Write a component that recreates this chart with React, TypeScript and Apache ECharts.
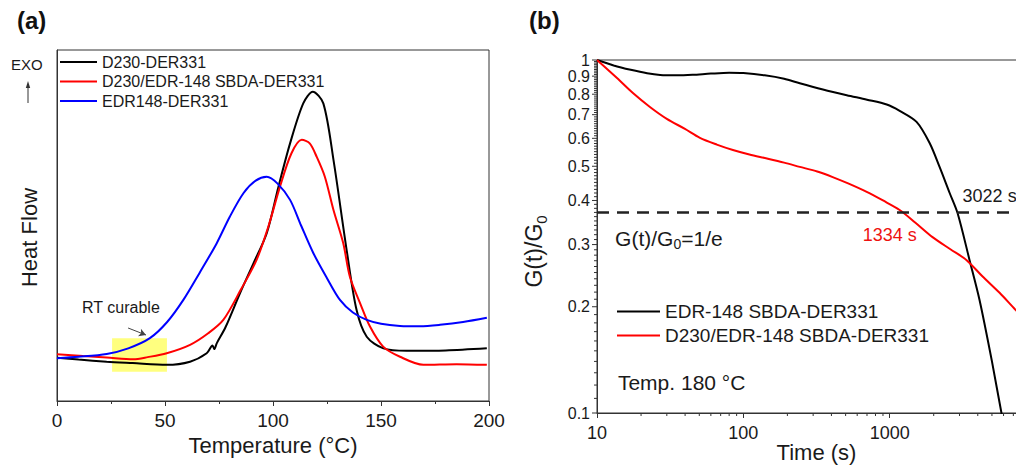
import React, { useEffect, useRef } from 'react';
import * as echarts from 'echarts';

const FONT = "'Liberation Sans', Arial, Helvetica, sans-serif";
const INK = '#1a1a1a';
const AXIS = '#333333';

// ---------- Panel (a): DSC heat flow ----------
const tempD230 = [0, 10, 23, 35, 50.8, 61.6, 69.3, 72, 72.8, 74, 78, 84.7, 91, 97.1, 102.5, 107.9, 114, 118.4, 123.3, 128, 134.1, 138.7, 143.4, 151.1, 161.9, 180, 199];
const heatD230 = [12.3, 11.8, 11.2, 10.8, 10.3, 11.2, 13.6, 15.8, 14.8, 16.5, 21, 30.7, 39.3, 47.8, 61, 73.4, 84.8, 88.1, 84.8, 68.7, 43, 25.9, 18.3, 15, 14.3, 14.4, 15];

const tempMix = [0, 12, 23, 35.3, 42, 50.8, 61.6, 70, 77, 85, 92.4, 98, 103.2, 108.5, 113.3, 117, 120.2, 124, 128, 132.5, 135.6, 140.3, 144.9, 151, 158.8, 169.6, 185, 199];
const heatMix = [13.3, 12.8, 12.4, 11.9, 12.5, 13.6, 16, 19.3, 23.1, 31.6, 40.2, 50, 61, 70.5, 74.4, 73.4, 69.6, 63.9, 54.4, 45, 35.4, 27.9, 21.2, 15.5, 12.6, 10.3, 10.5, 10.3];

const tempEdr = [0, 10, 23, 33, 43, 51, 58.5, 66, 73.9, 80, 86.3, 92, 97.1, 102, 107.9, 113, 118.7, 125, 131, 137, 143.4, 150, 158.8, 168, 177.3, 188, 199];
const heatEdr = [12.2, 12.6, 13.4, 15, 17.9, 22.5, 28.8, 36.5, 44.9, 52.5, 59.2, 62.8, 63.9, 62, 57.3, 50, 42.1, 35, 28.8, 25.2, 23.1, 22, 21.4, 21.3, 21.7, 22.5, 23.7];

const leftNames = ['D230-DER331', 'D230/EDR-148 SBDA-DER331', 'EDR148-DER331'];
const rtBox = [[25.5, 17.9], [50.9, 8.3]];
const rtArrow = [[32.9, 20.8], [41.2, 18.8]];
const rtLabelAt = [29.6, 26.5];

// ---------- Panel (b): stress relaxation ----------
const timeEdr = [10, 13, 17, 22, 27, 35, 45, 60, 80, 100, 140, 190, 243, 350, 509, 700, 955, 1170, 1527, 1875, 2193, 2570, 2913, 3516, 4113, 5000, 5808, 6200];
const gEdr = [1.0, 0.965, 0.938, 0.917, 0.907, 0.905, 0.908, 0.915, 0.92, 0.918, 0.905, 0.885, 0.859, 0.825, 0.795, 0.772, 0.748, 0.718, 0.668, 0.582, 0.498, 0.42, 0.368, 0.271, 0.209, 0.14, 0.1, 0.088];

const timeMix = [10, 13.7, 17.6, 23, 30, 39.9, 50.5, 65.9, 84.9, 110, 145, 190, 243, 320, 408, 520, 697, 900, 1170, 1500, 1963, 2600, 3357, 4300, 5640, 7244, 10000];
const gMix = [1.0, 0.889, 0.806, 0.736, 0.681, 0.638, 0.602, 0.576, 0.556, 0.54, 0.526, 0.512, 0.498, 0.483, 0.466, 0.447, 0.423, 0.4, 0.376, 0.346, 0.315, 0.291, 0.271, 0.244, 0.219, 0.196, 0.171];

const rightNames = ['EDR-148 SBDA-DER331', 'D230/EDR-148 SBDA-DER331'];
const gTickValues = [1, 0.9, 0.8, 0.7, 0.6, 0.5, 0.4, 0.3, 0.2, 0.1];
const gTickLabels = ['1', '0.9', '0.8', '0.7', '0.6', '0.5', '0.4', '0.3', '0.2', '0.1'];
const invE = 0.3679;
const noteTexts = ['3022 s', '1334 s', '{a|G(t)/G}{s|0}{a|=1/e}', 'Temp. 180 °C'];
const noteTime = [3150, 1000, 13.3, 13.9];
const noteG = [0.412, 0.319, 0.313, 0.122];

const zip = (a: number[], b: number[]) => a.map((x, i) => [x, b[i]]);

export default function App() {
  const ref = useRef<HTMLDivElement>(null);

  useEffect(() => {
    if (!ref.current) return;
    const chart = echarts.init(ref.current, null, { renderer: 'svg' });

    // minor tick marks for the log axes (axis ticks, not data)
    const tickData: number[][] = [];
    for (let k = 10; k <= 100; k++) tickData.push([10, k / 100, k % 10 === 0 ? 0 : 1]);
    [10, 100, 1000].forEach((d) => {
      for (let m = 2; m <= 9; m++) tickData.push([m * d, 0.1, 2]);
    });

    const noteStyles = [
      { fill: INK, fontSize: 18, align: 'left' },
      { fill: '#ee1111', fontSize: 18, align: 'center' },
      { fill: INK, fontSize: 21, align: 'left' },
      { fill: INK, fontSize: 21, align: 'left' },
    ];

    const option: any = {
      animation: false,
      backgroundColor: '#ffffff',
      textStyle: { fontFamily: FONT, color: INK },
      title: [
        { text: '(a)', left: 17, top: 8, padding: 0, textStyle: { fontSize: 24, fontWeight: 'bold', fontFamily: FONT, color: '#111' } },
        { text: '(b)', left: 529, top: 8, padding: 0, textStyle: { fontSize: 24, fontWeight: 'bold', fontFamily: FONT, color: '#111' } },
      ],
      grid: [
        { left: 57, top: 50, width: 432, height: 351, show: true, borderColor: AXIS, borderWidth: 1, backgroundColor: 'transparent', outerBoundsMode: 'none', containLabel: false },
        { left: 597, top: 60, width: 439, height: 353, show: true, borderColor: AXIS, borderWidth: 1, backgroundColor: 'transparent', outerBoundsMode: 'none', containLabel: false },
      ],
      legend: [
        {
          data: leftNames, orient: 'vertical', left: 60, top: 54, padding: 0,
          icon: 'rect', itemWidth: 37, itemHeight: 2, itemGap: 3.5, selectedMode: false,
          textStyle: { fontSize: 16, fontFamily: FONT, color: INK },
        },
        {
          data: rightNames, orient: 'vertical', left: 617, top: 302, padding: 0,
          icon: 'rect', itemWidth: 43, itemHeight: 2, itemGap: 5, selectedMode: false,
          textStyle: { fontSize: 19, fontFamily: FONT, color: INK },
        },
      ],
      xAxis: [
        {
          gridIndex: 0, type: 'value', min: 0, max: 200, interval: 50,
          axisLine: { lineStyle: { color: AXIS } },
          axisTick: { length: 5, lineStyle: { color: AXIS } },
          minorTick: { show: true, splitNumber: 2, length: 3, lineStyle: { color: AXIS } },
          splitLine: { show: false },
          axisLabel: { fontSize: 19, margin: 10, color: INK, fontFamily: FONT },
          name: 'Temperature (°C)', nameLocation: 'middle', nameGap: 31,
          nameTextStyle: { fontSize: 22, fontFamily: FONT, color: INK },
        },
        {
          gridIndex: 1, type: 'log', logBase: 10, min: 10, max: 10000,
          axisLine: { lineStyle: { color: AXIS } },
          axisTick: { length: 5, lineStyle: { color: AXIS } },
          splitLine: { show: false },
          axisLabel: {
            fontSize: 18, margin: 11, color: INK, fontFamily: FONT,
            formatter: (v: number) => (Math.round(v) >= 10000 ? '' : String(Math.round(v))),
          },
          name: 'Time (s)', nameLocation: 'middle', nameGap: 28, nameMoveOverlap: false,
          nameTextStyle: { fontSize: 22, lineHeight: 22, fontFamily: FONT, color: INK },
        },
      ],
      yAxis: [
        {
          gridIndex: 0, type: 'value', min: 0, max: 100,
          axisLine: { show: true, lineStyle: { color: AXIS } },
          axisTick: { show: false }, axisLabel: { show: false }, splitLine: { show: false },
          name: 'Heat Flow', nameLocation: 'middle', nameGap: 17, nameRotate: 90,
          nameTextStyle: { fontSize: 22, fontFamily: FONT, color: INK, padding: [0, 24, 0, 0] },
        },
        {
          gridIndex: 1, type: 'log', logBase: 10, min: 0.1, max: 1,
          axisLine: { show: true, lineStyle: { color: AXIS } },
          axisTick: { show: false }, axisLabel: { show: false }, splitLine: { show: false },
          name: '{a|G(t)/G}{s|0}', nameLocation: 'middle', nameGap: 48, nameRotate: 90,
          nameTextStyle: {
            fontFamily: FONT, color: INK, padding: [0, 30, 0, 0],
            rich: {
              a: { fontSize: 23, fontFamily: FONT, color: INK, lineHeight: 30 },
              s: { fontSize: 15, fontFamily: FONT, color: INK, lineHeight: 15, verticalAlign: 'bottom' },
            },
          },
        },
      ],
      graphic: [
        { type: 'text', left: 11, top: 57, style: { text: 'EXO', fontSize: 15, fontFamily: FONT, fill: INK } },
        { type: 'line', shape: { x1: 28, y1: 103, x2: 28, y2: 86 }, style: { stroke: '#333', lineWidth: 1 } },
        { type: 'polygon', shape: { points: [[25.8, 88], [30.2, 88], [28, 81]] }, style: { fill: '#333' } },
      ],
      series: [
        {
          // holder for the RT-curable box and arrow (drawn beneath the curves)
          type: 'line', xAxisIndex: 0, yAxisIndex: 0, data: [], z: 1, silent: true,
          markArea: {
            silent: true,
            itemStyle: { color: 'rgba(255,255,0,0.5)' },
            data: [[{ coord: rtBox[0] }, { coord: rtBox[1] }]],
          },
          markLine: {
            silent: true, symbol: ['none', 'arrow'], symbolSize: [6, 7],
            label: { show: false },
            lineStyle: { color: '#444', width: 1, type: 'solid' },
            data: [[{ coord: rtArrow[0] }, { coord: rtArrow[1] }]],
          },
        },
        {
          name: leftNames[0], type: 'line', xAxisIndex: 0, yAxisIndex: 0, z: 3,
          data: zip(tempD230, heatD230), symbol: 'none', smooth: 0.3,
          lineStyle: { color: '#000000', width: 2 }, itemStyle: { color: '#000000' },
        },
        {
          name: leftNames[1], type: 'line', xAxisIndex: 0, yAxisIndex: 0, z: 3,
          data: zip(tempMix, heatMix), symbol: 'none', smooth: 0.3,
          lineStyle: { color: '#ff0000', width: 2 }, itemStyle: { color: '#ff0000' },
        },
        {
          name: leftNames[2], type: 'line', xAxisIndex: 0, yAxisIndex: 0, z: 3,
          data: zip(tempEdr, heatEdr), symbol: 'none', smooth: 0.3,
          lineStyle: { color: '#0000ff', width: 2 }, itemStyle: { color: '#0000ff' },
        },
        {
          type: 'custom', xAxisIndex: 0, yAxisIndex: 0, silent: true, z: 4,
          data: [rtLabelAt], dimensions: ['x', 'y'], encode: { x: 0, y: 1 },
          renderItem: (_p: any, api: any) => {
            const p = api.coord([api.value(0), api.value(1)]);
            return {
              type: 'text', x: p[0], y: p[1],
              style: {
                text: 'RT curable', fill: INK, fontSize: 16, fontFamily: FONT,
                align: 'center', verticalAlign: 'middle', textAlign: 'center', textVerticalAlign: 'middle',
              },
            };
          },
        },
        {
          name: rightNames[0], type: 'line', xAxisIndex: 1, yAxisIndex: 1, z: 3,
          data: zip(timeEdr, gEdr), symbol: 'none', smooth: 0.3,
          lineStyle: { color: '#000000', width: 2 }, itemStyle: { color: '#000000' },
          markLine: {
            silent: true, symbol: ['none', 'none'], label: { show: false },
            lineStyle: { color: '#222', width: 2.5, type: [12, 8] },
            data: [{ yAxis: invE }],
          },
        },
        {
          name: rightNames[1], type: 'line', xAxisIndex: 1, yAxisIndex: 1, z: 3,
          data: zip(timeMix, gMix), symbol: 'none', smooth: 0.3,
          lineStyle: { color: '#ff0000', width: 2 }, itemStyle: { color: '#ff0000' },
        },
        {
          type: 'custom', xAxisIndex: 1, yAxisIndex: 1, silent: true, clip: false, z: 4,
          data: tickData, dimensions: ['x', 'y', 'k'], encode: { x: 0, y: 1 },
          renderItem: (_p: any, api: any) => {
            const k = api.value(2);
            const p = api.coord([api.value(0), api.value(1)]);
            if (k === 2) {
              return { type: 'line', shape: { x1: p[0], y1: p[1], x2: p[0], y2: p[1] + 3 }, style: { stroke: AXIS, lineWidth: 1 } };
            }
            const len = k === 0 ? 5 : 3;
            return { type: 'line', shape: { x1: p[0] - len, y1: p[1], x2: p[0], y2: p[1] }, style: { stroke: AXIS, lineWidth: 1 } };
          },
        },
        {
          type: 'custom', xAxisIndex: 1, yAxisIndex: 1, silent: true, clip: false, z: 4,
          data: gTickValues.map((v, i) => [10, v, i]), dimensions: ['x', 'y', 'i'], encode: { x: 0, y: 1 },
          renderItem: (_p: any, api: any) => {
            const i = api.value(2);
            const p = api.coord([api.value(0), api.value(1)]);
            return {
              type: 'text', x: p[0] - 7, y: p[1],
              style: {
                text: gTickLabels[i], fill: INK, fontSize: 16, lineHeight: 15, fontFamily: FONT,
                align: 'right', verticalAlign: 'middle', textAlign: 'right', textVerticalAlign: 'middle',
              },
            };
          },
        },
        {
          type: 'custom', xAxisIndex: 1, yAxisIndex: 1, silent: true, clip: false, z: 4,
          data: noteTime.map((t, i) => [t, noteG[i], i]), dimensions: ['x', 'y', 'i'], encode: { x: 0, y: 1 },
          renderItem: (_p: any, api: any) => {
            const i = api.value(2);
            const s = noteStyles[i];
            const p = api.coord([api.value(0), api.value(1)]);
            return {
              type: 'text', x: p[0], y: p[1],
              style: {
                text: noteTexts[i], fill: s.fill, fontSize: s.fontSize, fontFamily: FONT,
                align: s.align, verticalAlign: 'middle', textAlign: s.align, textVerticalAlign: 'middle',
                rich: {
                  a: { fontSize: 21, fontFamily: FONT, fill: INK, lineHeight: 26 },
                  s: { fontSize: 14, fontFamily: FONT, fill: INK, lineHeight: 14, verticalAlign: 'bottom' },
                },
              },
            };
          },
        },
      ],
    };

    chart.setOption(option);
    return () => chart.dispose();
  }, []);

  return (
    <div
      ref={ref}
      style={{ position: 'absolute', left: 0, top: 0, width: 1016, height: 467, background: '#fff' }}
    />
  );
}
